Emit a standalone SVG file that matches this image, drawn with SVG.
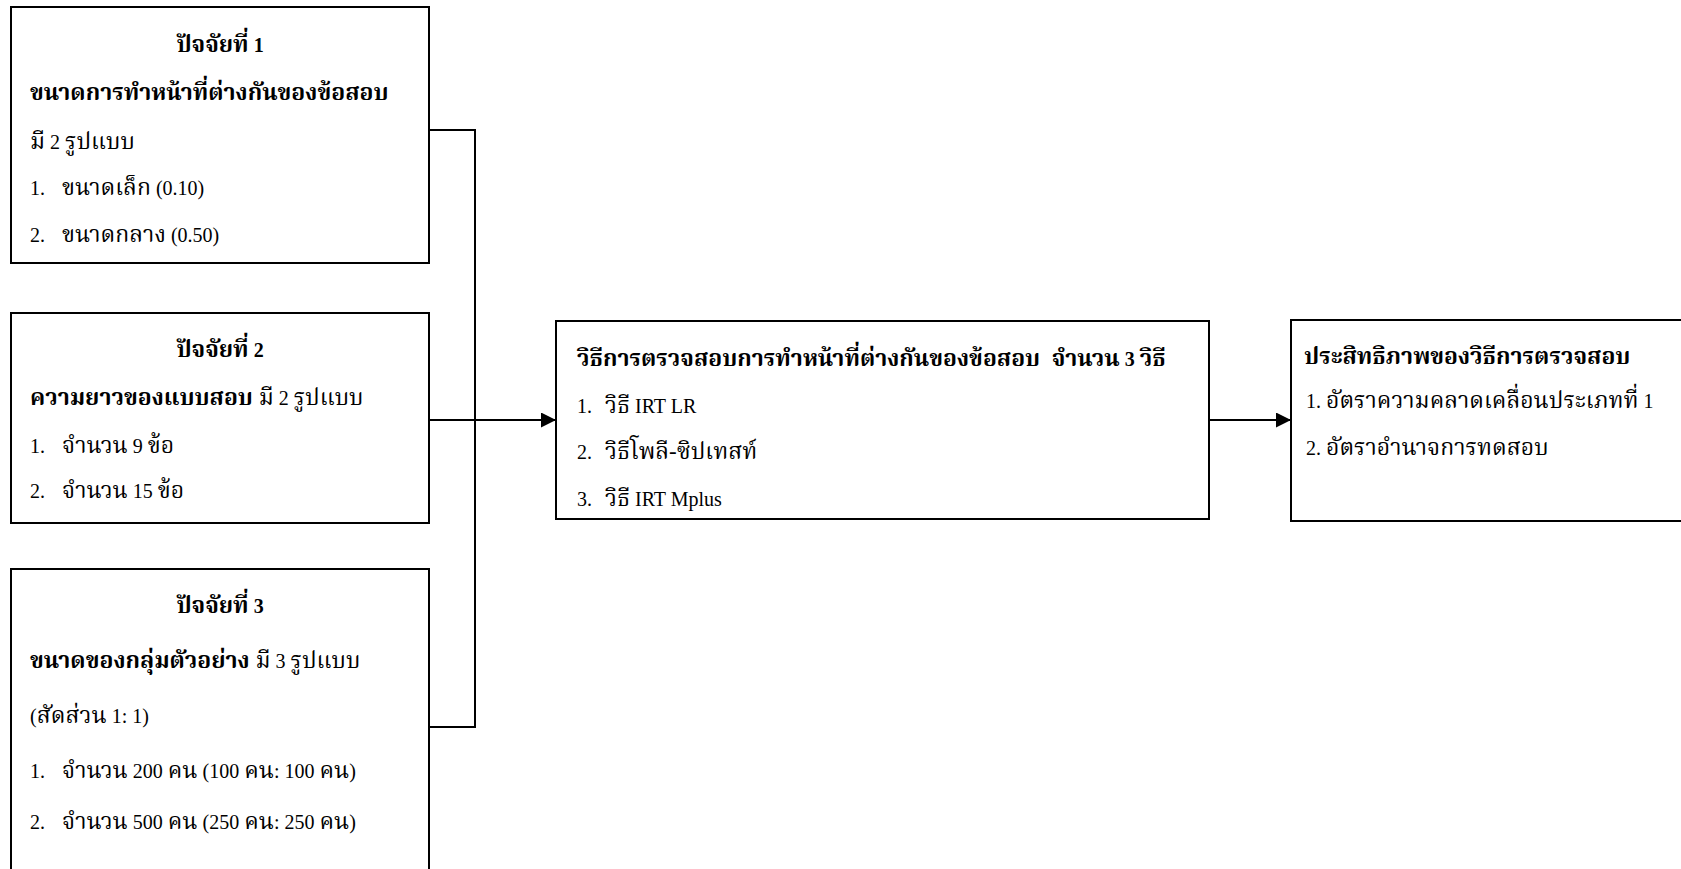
<svg xmlns="http://www.w3.org/2000/svg" width="1681" height="869" viewBox="0 0 1681 869">
<style>
  .box { fill: #ffffff; stroke: #000000; stroke-width: 2; }
  .t { font-family: "Liberation Serif", "Norasi", "Noto Serif Thai", "Noto Sans Thai", "Tlwg Typo", serif; font-size: 23px; fill: #000000; }
  .l { font-size: 20px; }
  .b { font-weight: bold; }
  .c { text-anchor: middle; }
  .conn { fill: none; stroke: #000000; stroke-width: 2; }
</style>
<defs>
  <marker id="arrow" markerWidth="16" markerHeight="16" refX="15" refY="7.5" orient="auto" markerUnits="userSpaceOnUse">
    <path d="M0,0 L15,7.5 L0,15 Z" fill="#000000"/>
  </marker>
</defs>
<rect width="1681" height="869" fill="#ffffff"/>

<g id="factor1">
  <rect class="box" x="11" y="7" width="418" height="256"/>
  <text class="t b c" x="220" y="52">ปัจจัยที่<tspan class="l"> 1</tspan></text>
  <text class="t b" x="30" y="100">ขนาดการทำหน้าที่ต่างกันของข้อสอบ</text>
  <text class="t" x="30" y="149">มี<tspan class="l"> 2 </tspan>รูปแบบ</text>
  <text class="t" y="195"><tspan class="l" x="30">1.</tspan><tspan x="62">ขนาดเล็ก</tspan><tspan class="l"> (0.10)</tspan></text>
  <text class="t" y="242"><tspan class="l" x="30">2.</tspan><tspan x="62">ขนาดกลาง</tspan><tspan class="l"> (0.50)</tspan></text>
</g>

<g id="factor2">
  <rect class="box" x="11" y="313" width="418" height="210"/>
  <text class="t b c" x="220" y="357">ปัจจัยที่<tspan class="l"> 2</tspan></text>
  <text class="t" x="30" y="405"><tspan class="b">ความยาวของแบบสอบ</tspan> มี<tspan class="l"> 2 </tspan>รูปแบบ</text>
  <text class="t" y="453"><tspan class="l" x="30">1.</tspan><tspan x="62">จำนวน</tspan><tspan class="l"> 9 </tspan>ข้อ</text>
  <text class="t" y="498"><tspan class="l" x="30">2.</tspan><tspan x="62">จำนวน</tspan><tspan class="l"> 15 </tspan>ข้อ</text>
</g>

<g id="factor3">
  <rect class="box" x="11" y="569" width="418" height="320"/>
  <text class="t b c" x="220" y="613">ปัจจัยที่<tspan class="l"> 3</tspan></text>
  <text class="t" x="30" y="668"><tspan class="b">ขนาดของกลุ่มตัวอย่าง</tspan> มี<tspan class="l"> 3 </tspan>รูปแบบ</text>
  <text class="t" x="30" y="723"><tspan class="l">(</tspan>สัดส่วน<tspan class="l"> 1: 1)</tspan></text>
  <text class="t" y="778"><tspan class="l" x="30">1.</tspan><tspan x="62">จำนวน</tspan><tspan class="l"> 200 </tspan>คน<tspan class="l"> (100 </tspan>คน<tspan class="l">: 100 </tspan>คน<tspan class="l">)</tspan></text>
  <text class="t" y="829"><tspan class="l" x="30">2.</tspan><tspan x="62">จำนวน</tspan><tspan class="l"> 500 </tspan>คน<tspan class="l"> (250 </tspan>คน<tspan class="l">: 250 </tspan>คน<tspan class="l">)</tspan></text>
</g>

<g id="methods">
  <rect class="box" x="556" y="321" width="653" height="198"/>
  <text class="t b" x="577" y="366">วิธีการตรวจสอบการทำหน้าที่ต่างกันของข้อสอบ&#160; จำนวน<tspan class="l"> 3 </tspan>วิธี</text>
  <text class="t" y="413"><tspan class="l" x="577">1.</tspan><tspan x="605">วิธี</tspan><tspan class="l"> IRT LR</tspan></text>
  <text class="t" y="459"><tspan class="l" x="577">2.</tspan><tspan x="605">วิธีโพลี-ซิปเทสท์</tspan></text>
  <text class="t" y="506"><tspan class="l" x="577">3.</tspan><tspan x="605">วิธี</tspan><tspan class="l"> IRT Mplus</tspan></text>
</g>

<g id="efficiency">
  <rect class="box" x="1291" y="320" width="420" height="201"/>
  <text class="t b" x="1304" y="364">ประสิทธิภาพของวิธีการตรวจสอบ</text>
  <text class="t" y="408"><tspan class="l" x="1306">1.</tspan><tspan x="1326">อัตราความคลาดเคลื่อนประเภทที่</tspan><tspan class="l"> 1</tspan></text>
  <text class="t" y="455"><tspan class="l" x="1306">2.</tspan><tspan x="1326">อัตราอำนาจการทดสอบ</tspan></text>
</g>

<g id="connectors">
  <polyline class="conn" points="429,130 475,130 475,727 429,727"/>
  <line class="conn" x1="429" y1="420" x2="556" y2="420" marker-end="url(#arrow)"/>
  <line class="conn" x1="1209" y1="420" x2="1291" y2="420" marker-end="url(#arrow)"/>
</g>
</svg>
